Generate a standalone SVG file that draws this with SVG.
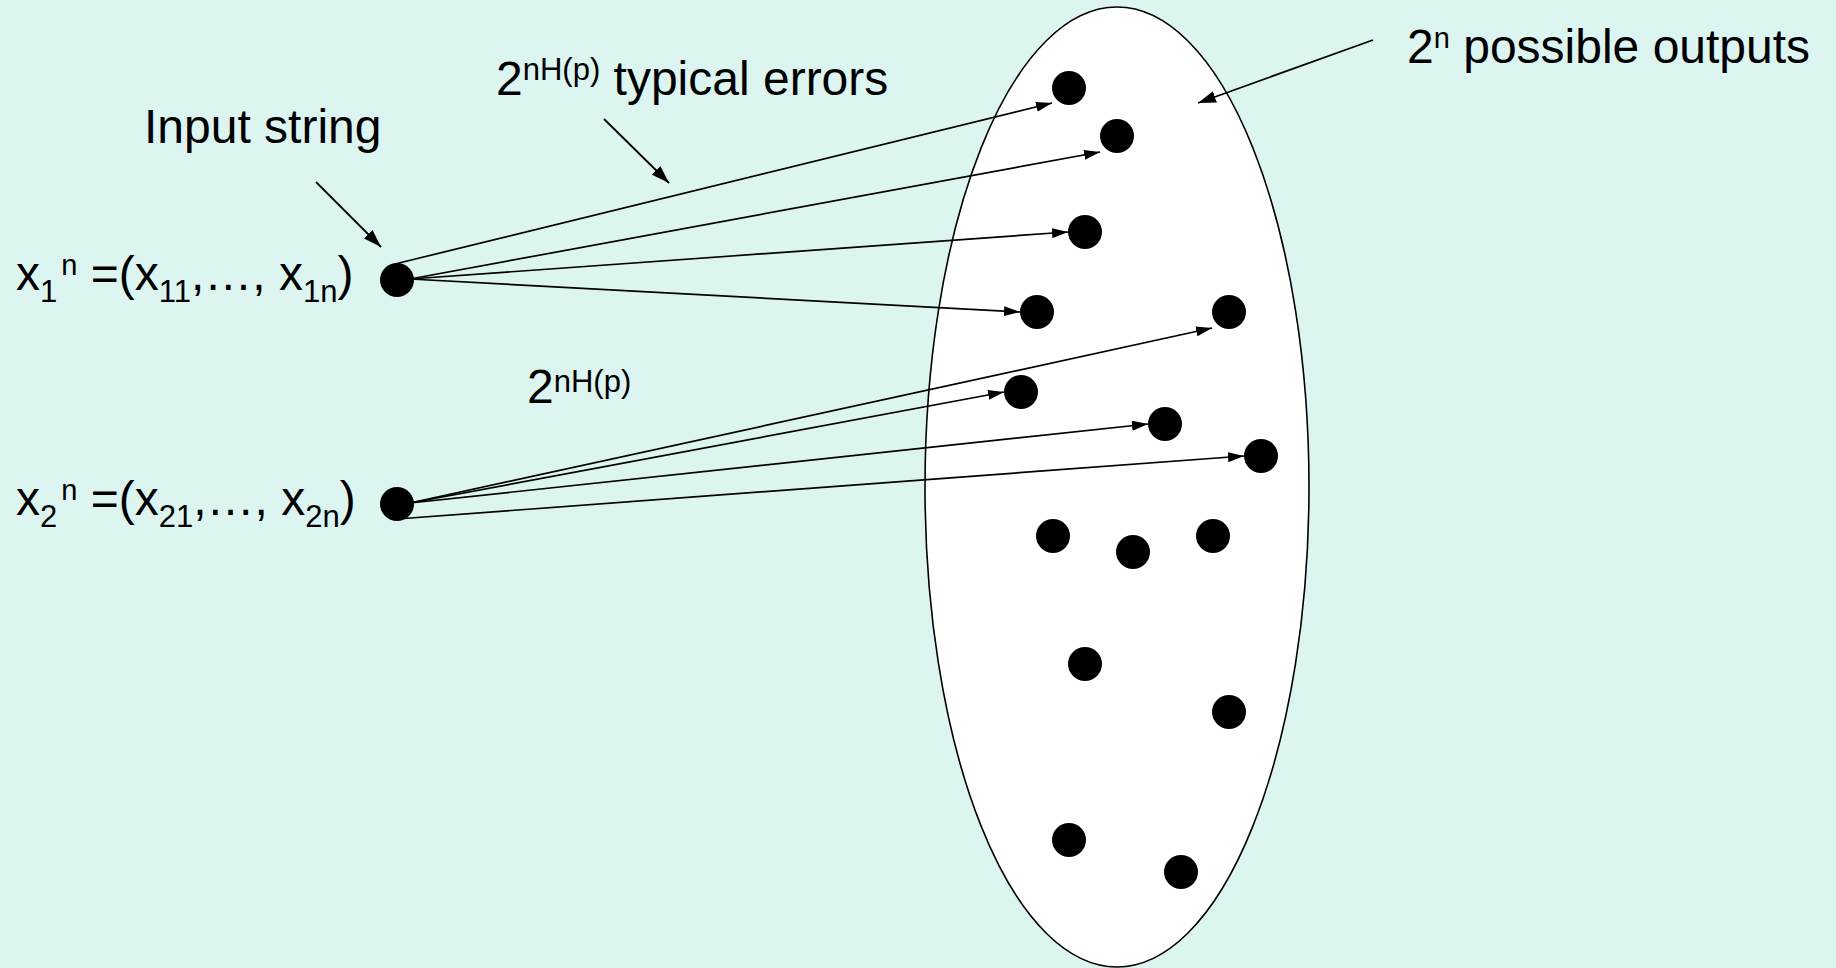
<svg xmlns="http://www.w3.org/2000/svg" width="1836" height="968" viewBox="0 0 1836 968">
<style>
  text { font-family: "Liberation Sans", Arial, sans-serif; font-size: 48px; fill: #000; }
  .sub { font-size: 31px; }
  .supn { font-size: 29px; }
  .supe { font-size: 31px; }
  .fan { stroke: #000; stroke-width: 1.7; fill: none; marker-end: url(#ah); }
  .ptr { stroke: #000; stroke-width: 1.8; fill: none; marker-end: url(#ah2); }
  .dot { fill: #000; }
</style>
<defs>
  <marker id="ah" markerUnits="userSpaceOnUse" markerWidth="16" markerHeight="10" refX="16" refY="5" orient="auto">
    <path d="M0,0 L16,5 L0,10 z" fill="#000"/>
  </marker>
  <marker id="ah2" markerUnits="userSpaceOnUse" markerWidth="18" markerHeight="12" refX="18" refY="6" orient="auto">
    <path d="M0,0 L18,6 L0,12 z" fill="#000"/>
  </marker>
</defs>
<rect x="0" y="0" width="1836" height="968" fill="#DCF5F1"/>

<g id="outputs-set">
  <ellipse cx="1117" cy="487" rx="192" ry="480" fill="#fff" stroke="#000" stroke-width="1.6"/>
</g>

<g id="connectors">
  <line class="fan" x1="395" y1="264" x2="1052" y2="103"/>
  <line class="fan" x1="410" y1="279" x2="1100" y2="152"/>
  <line class="fan" x1="410" y1="279" x2="1068" y2="232"/>
  <line class="fan" x1="410" y1="279" x2="1020" y2="312"/>
  <line class="fan" x1="410" y1="503" x2="1212" y2="328"/>
  <line class="fan" x1="410" y1="503" x2="1004" y2="392"/>
  <line class="fan" x1="410" y1="503" x2="1148" y2="424"/>
  <line class="fan" x1="397" y1="519" x2="1244" y2="456"/>
  <line class="ptr" x1="316" y1="182" x2="381" y2="247"/>
  <line class="ptr" x1="604" y1="119" x2="669" y2="183"/>
  <line class="ptr" x1="1373" y1="40" x2="1198" y2="103"/>
</g>

<g id="input1">
  <circle class="dot" cx="397" cy="280" r="17"/>
  <text x="16" y="290">x<tspan class="sub" dy="12">1</tspan><tspan class="supn" dx="4" dy="-27">n</tspan><tspan dy="15"> =(x</tspan><tspan class="sub" dy="12">11</tspan><tspan dy="-12">,…, x</tspan><tspan class="sub" dy="12">1n</tspan><tspan dy="-12">)</tspan></text>
</g>
<g id="input2">
  <circle class="dot" cx="397" cy="504" r="17"/>
  <text x="16" y="515">x<tspan class="sub" dy="12">2</tspan><tspan class="supn" dx="4" dy="-27">n</tspan><tspan dy="15"> =(x</tspan><tspan class="sub" dy="12">21</tspan><tspan dy="-12">,…, x</tspan><tspan class="sub" dy="12">2n</tspan><tspan dy="-12">)</tspan></text>
</g>

<g id="output-points">
  <circle class="dot" cx="1069" cy="88" r="17"/>
  <circle class="dot" cx="1117" cy="136" r="17"/>
  <circle class="dot" cx="1085" cy="232" r="17"/>
  <circle class="dot" cx="1037" cy="312" r="17"/>
  <circle class="dot" cx="1229" cy="312" r="17"/>
  <circle class="dot" cx="1021" cy="392" r="17"/>
  <circle class="dot" cx="1165" cy="424" r="17"/>
  <circle class="dot" cx="1261" cy="456" r="17"/>
  <circle class="dot" cx="1053" cy="536" r="17"/>
  <circle class="dot" cx="1133" cy="552" r="17"/>
  <circle class="dot" cx="1213" cy="536" r="17"/>
  <circle class="dot" cx="1085" cy="664" r="17"/>
  <circle class="dot" cx="1229" cy="712" r="17"/>
  <circle class="dot" cx="1069" cy="840" r="17"/>
  <circle class="dot" cx="1181" cy="872" r="17"/>
</g>

<g id="label-input">
  <text x="144" y="143">Input string</text>
</g>
<g id="label-errors">
  <text x="496" y="95">2<tspan class="supe" dy="-15.5">nH(p)</tspan><tspan dy="15.5"> typical errors</tspan></text>
</g>
<g id="label-mid">
  <text x="527" y="403">2<tspan class="supe" dy="-11.5">nH(p)</tspan></text>
</g>
<g id="label-outputs">
  <text x="1407" y="63">2<tspan class="supn" dy="-15">n</tspan><tspan dy="15"> possible outputs</tspan></text>
</g>
</svg>
